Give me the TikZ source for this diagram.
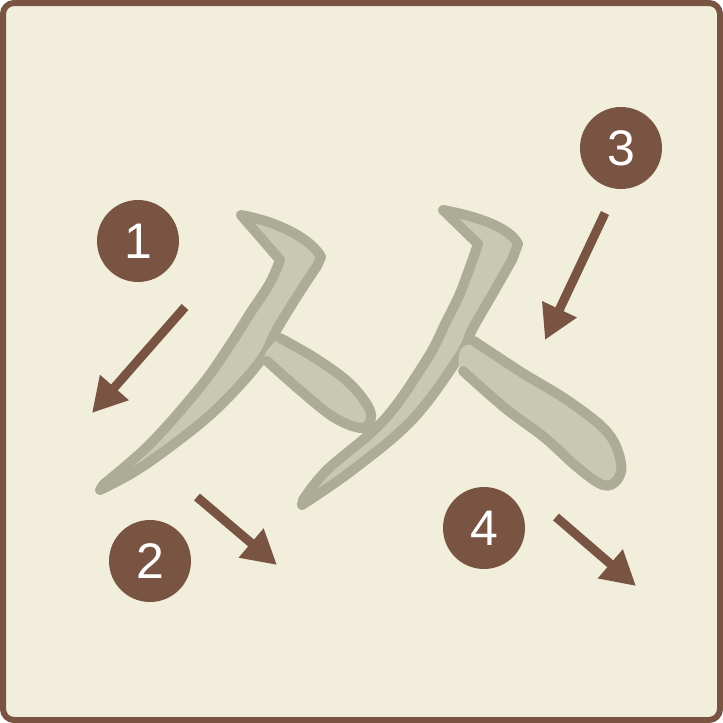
\documentclass[tikz,border=0pt]{standalone}
\usepackage{fontspec}
\setmainfont{Liberation Sans}
\usetikzlibrary{arrows.meta}
\definecolor{paper}{HTML}{F1EEDC}
\definecolor{bark}{HTML}{7A5443}
\definecolor{inkfill}{HTML}{C9C8B1}
\definecolor{inkline}{HTML}{ADAC95}
\begin{document}
\begin{tikzpicture}[x=1pt, y=-1pt,
  num/.style={circle, fill=bark, minimum size=82pt, inner sep=0pt, text=white,
    font=\fontsize{50}{50}\selectfont},
  order/.style={bark, line width=9pt, -{Triangle[length=34pt, width=36pt]}},
  brushfill/.style={fill=inkfill},
  brushline/.style={draw=inkline, line width=10pt, line join=round, line cap=round}]
  \useasboundingbox (0,0) rectangle (723,723);
  \draw[bark, fill=paper, line width=6pt, rounded corners=11pt] (3,3) rectangle (720,720);
  % stroke 1
  \path[brushfill, brushline] (241,215) .. controls (280,222) and (312,240) .. (321,257)
    -- plot[smooth, tension=0.6] coordinates {(317,266) (296,298) (276,331) (263,357)
      (240,385) (209,416) (170,447) (134,472) (100,490)}
    -- plot[smooth, tension=0.6] coordinates {(104,484) (151,443) (201,386) (228,348)
      (251,312) (270,283) (280,260)}
    -- cycle;
  % stroke 2
  \fill[brushfill] plot[smooth cycle, tension=0.6] coordinates {(272,345) (284,340)
    (315,358) (347,381) (366,403) (371,418) (362,428) (335,418) (302,392) (266,362)};
  \draw[brushline] plot[smooth, tension=0.6] coordinates {(280,338) (315,358)
    (347,381) (366,403) (371,418) (362,428) (335,418) (302,392) (267,361)};
  % stroke 3
  \path[brushfill, brushline] (443,210) .. controls (480,217) and (510,228) .. (518,244)
    -- plot[smooth, tension=0.6] coordinates {(512,260) (492,295) (473,328) (459,357)
      (413,419) (354,469) (302,505)}
    -- plot[smooth, tension=0.6] coordinates {(303,500) (327,470) (384,420) (427,359)
      (446,322) (461,291) (478,244)}
    -- cycle;
  % stroke 4
  \fill[brushfill] plot[smooth cycle, tension=0.6] coordinates {(468,345) (521,372)
    (570,402) (608,433) (621,463) (617,480) (603,485) (577,467) (545,438) (505,408)
    (462,372)};
  \draw[brushline] plot[smooth, tension=0.6] coordinates {(474,341) (521,372)
    (570,402) (608,433) (621,463) (617,480) (603,485) (577,467) (545,438) (505,408)
    (463,371)};
  % numbers
  \node[num] (n1) at (138,241) {1};
  \node[num] (n2) at (150,561) {2};
  \node[num] (n3) at (621,148) {3};
  \node[num] (n4) at (484,528) {4};
  % arrows
  \coordinate (a1s) at (185,307);
  \coordinate (a1e) at (92,413);
  \coordinate (a2s) at (197,497);
  \coordinate (a2e) at (277,565);
  \coordinate (a3s) at (605,213);
  \coordinate (a3e) at (545,340);
  \coordinate (a4s) at (556,517);
  \coordinate (a4e) at (636,586);
  \draw[order] (a1s) -- (a1e);
  \draw[order] (a2s) -- (a2e);
  \draw[order] (a3s) -- (a3e);
  \draw[order] (a4s) -- (a4e);
\end{tikzpicture}
\end{document}
